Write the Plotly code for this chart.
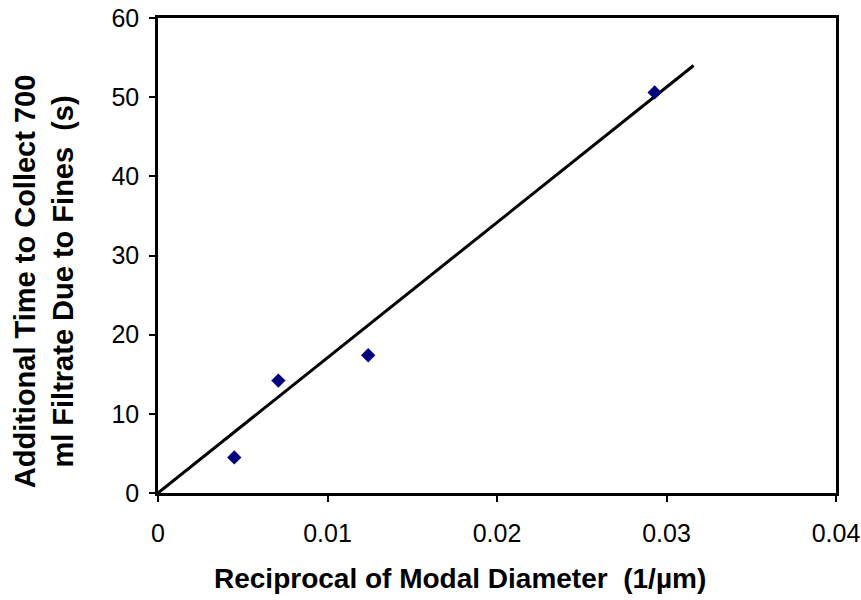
import plotly.graph_objects as go

# Measured points
recip_diameter = [0.0045, 0.0071, 0.0124, 0.0293]   # 1/µm
extra_time = [4.5, 14.2, 17.4, 50.6]                # s

# Linear trend through the origin (endpoints)
trend_x = [0.0, 0.0316]
trend_y = [0.0, 54.0]

x_ticks = [0, 0.01, 0.02, 0.03, 0.04]
x_tick_text = ["0", "0.01", "0.02", "0.03", "0.04"]
y_ticks = [0, 10, 20, 30, 40, 50, 60]

x_title = "<b>Reciprocal of Modal Diameter  (1/µm)</b>"
y_title = "<b>Additional Time to Collect 700<br>ml Filtrate Due to Fines  (s)</b>"

font_family = "Liberation Sans, Arial, sans-serif"

fig = go.Figure()
fig.add_trace(go.Scatter(
    x=trend_x, y=trend_y, mode="lines",
    line=dict(color="black", width=3), showlegend=False, hoverinfo="skip",
))
fig.add_trace(go.Scatter(
    x=recip_diameter, y=extra_time, mode="markers",
    marker=dict(symbol="diamond", size=11, color="#000080"),
    showlegend=False,
))

fig.update_layout(
    width=861, height=600,
    margin=dict(l=158, r=25, t=18, b=107),
    paper_bgcolor="white", plot_bgcolor="white",
    font=dict(family=font_family, color="black", size=25),
    xaxis=dict(
        range=[0, 0.04], tickvals=x_ticks, ticktext=x_tick_text,
        automargin=False,
        showgrid=False, zeroline=False,
        showline=True, linecolor="black", linewidth=2.5, mirror=True,
        ticks="outside", ticklen=6, tickwidth=2, tickcolor="black",
        ticklabelstandoff=10,
        tickfont=dict(size=25),
    ),
    yaxis=dict(
        range=[0, 60], tickvals=y_ticks,
        automargin=False,
        showgrid=False, zeroline=False,
        showline=True, linecolor="black", linewidth=2.5, mirror=True,
        ticks="outside", ticklen=6, tickwidth=2, tickcolor="black",
        ticklabelstandoff=5,
        tickfont=dict(size=25),
    ),
    annotations=[
        dict(text=x_title, xref="paper", yref="paper",
             x=0.4454, y=-0.179, xanchor="center", yanchor="middle",
             showarrow=False, font=dict(size=28)),
        dict(text=y_title, xref="paper", yref="paper",
             x=-0.168, y=0.446, xanchor="center", yanchor="middle",
             textangle=-90, showarrow=False, font=dict(size=29)),
    ],
)

fig.write_html("out.html")
